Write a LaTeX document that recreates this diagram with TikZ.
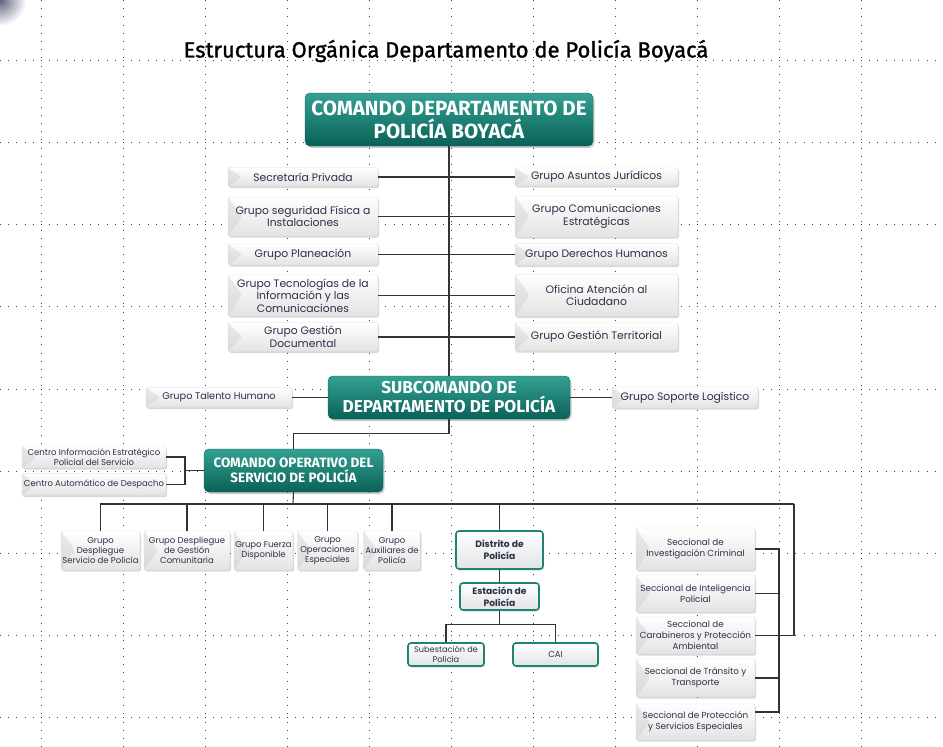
\documentclass[tikz,border=0pt]{standalone}
\usepackage{fontspec}
\setmainfont{Fira Sans}
\newfontfamily\grayfont{Poppins}
\newfontfamily\headfont{Fira Sans}
\newfontfamily\titlefont[FakeBold=1.2]{Fira Sans}
\usetikzlibrary{shadows,calc}
\definecolor{tealtop}{HTML}{34A193}
\definecolor{tealbot}{HTML}{0A6158}
\definecolor{tealedge}{HTML}{1E8275}
\definecolor{navytext}{HTML}{2B3148}
\definecolor{linecol}{HTML}{333333}
\definecolor{gridcol}{HTML}{444444}
\tikzset{
  gridline/.style={gridcol, line width=0.9pt, dash pattern=on 0.9pt off 7.3pt},
  bevel/.style={path picture={\fill[gray!45,opacity=0.35] (path picture bounding box.north west) -- ([xshift=14pt]path picture bounding box.west) -- (path picture bounding box.south west) -- cycle;}},
  graybox/.style={rectangle, rounded corners=2pt, top color=white, bottom color=gray!22, draw=gray!30, line width=0.4pt,
    drop shadow={opacity=0.3, shadow xshift=1pt, shadow yshift=-1.5pt}, text=navytext, align=center, inner sep=0.5pt, bevel},
  gtext/.style={font=\grayfont\fontsize{10.8}{12.5}\selectfont},
  stext/.style={font=\grayfont\fontsize{8.5}{10}\selectfont},
  sectext/.style={font=\grayfont\fontsize{8.8}{11}\selectfont},
  tealbox/.style={rectangle, rounded corners=5pt, top color=tealtop, bottom color=tealbot, draw=tealbot, line width=0.4pt,
    drop shadow={opacity=0.4, shadow xshift=1.5pt, shadow yshift=-2pt}, text=white, align=center, inner sep=1pt},
  distbox/.style={rectangle, rounded corners=3pt, top color=white, bottom color=gray!22, draw=tealedge, line width=1.6pt,
    text=navytext, align=center, inner sep=0.5pt, font=\grayfont\bfseries\fontsize{9.2}{11.5}\selectfont,
    drop shadow={opacity=0.25, shadow xshift=1pt, shadow yshift=-1.5pt}},
  conn/.style={linecol, line width=1.1pt}
}
\begin{document}
\begin{tikzpicture}[x=1pt,y=-1pt]
\useasboundingbox (0,0) rectangle (943,747);
\fill[white] (0,0) rectangle (943,747);
% corner shading
\begin{scope}
\clip (0,0) rectangle (943,747);
\shade[inner color=gray!75!blue!60!black, outer color=white, opacity=0.8] (0,0) circle (26pt);
\end{scope}
% dotted grid
\foreach \gx in {41,123,205,287,369,451,533,615,697,779,861} {\draw[gridline] (\gx,0) -- (\gx,747);}
\foreach \gy in {60,142,224,306,389,471,553,635,717} {\draw[gridline] (0,\gy) -- (943,\gy);}

% title
\node[font=\titlefont\fontsize{22}{25}\selectfont, text=black] (title) at (446,51) {Estructura Orgánica Departamento de Policía Boyacá};

% top command
\node[tealbox, minimum width=288pt, minimum height=53pt, font=\headfont\bfseries\fontsize{20.5}{23}\selectfont] (top) at (449,119.5) {COMANDO DEPARTAMENTO DE\\POLICÍA BOYACÁ};

% left column
\node[graybox, gtext, minimum width=150pt, minimum height=19pt] (l1) at (303,177) {Secretaría Privada};
\node[graybox, gtext, minimum width=150pt, minimum height=39pt] (l2) at (303,216.5) {Grupo seguridad Física a\\Instalaciones};
\node[graybox, gtext, minimum width=150pt, minimum height=21pt] (l3) at (303,254.5) {Grupo Planeación};
\node[graybox, gtext, minimum width=150pt, minimum height=41pt] (l4) at (303,295.5) {Grupo Tecnologías de la\\Información y las\\Comunicaciones};
\node[graybox, gtext, minimum width=150pt, minimum height=29pt] (l5) at (303,337) {Grupo Gestión\\Documental};
% right column
\node[graybox, gtext, minimum width=163pt, minimum height=18pt] (r1) at (596.5,177) {Grupo Asuntos Jurídicos};
\node[graybox, gtext, minimum width=163pt, minimum height=41pt] (r2) at (596.5,216.5) {Grupo Comunicaciones\\Estratégicas};
\node[graybox, gtext, minimum width=163pt, minimum height=22pt] (r3) at (596.5,254.5) {Grupo Derechos Humanos};
\node[graybox, gtext, minimum width=163pt, minimum height=42pt] (r4) at (596.5,295.5) {Oficina Atención al\\Ciudadano};
\node[graybox, gtext, minimum width=163pt, minimum height=28pt] (r5) at (596.5,337) {Grupo Gestión Territorial};

% subcommand
\node[tealbox, minimum width=242pt, minimum height=43pt, font=\headfont\bfseries\fontsize{17.2}{19}\selectfont] (sub) at (449,397.5) {SUBCOMANDO DE\\DEPARTAMENTO DE POLICÍA};
\node[graybox, font=\grayfont\fontsize{9.7}{11}\selectfont, minimum width=146pt, minimum height=20pt] (th) at (219,397.5) {Grupo Talento Humano};
\node[graybox, font=\grayfont\fontsize{10.8}{12}\selectfont, minimum width=146pt, minimum height=21pt] (sl) at (685,397.5) {Grupo Soporte Logístico};

% operative command
\node[tealbox, minimum width=179pt, minimum height=43pt, font=\headfont\bfseries\fontsize{13.5}{15.5}\selectfont] (co) at (293.5,470.5) {COMANDO OPERATIVO DEL\\SERVICIO DE POLICÍA};
\node[graybox, stext, minimum width=144pt, minimum height=22pt] (c1) at (94,457) {Centro Información Estratégico\\Policial del Servicio};
\node[graybox, stext, minimum width=144pt, minimum height=22pt] (c2) at (94,484.5) {Centro Automático de Despacho};

% bottom row
\node[graybox, stext, minimum width=79pt, minimum height=39pt] (b1) at (100.5,550.5) {Grupo\\Despliegue\\Servicio de Policía};
\node[graybox, stext, minimum width=86pt, minimum height=39pt] (b2) at (187,550.5) {Grupo Despliegue\\de Gestión\\Comunitaria};
\node[graybox, stext, minimum width=59pt, minimum height=39pt] (b3) at (263.5,550.5) {Grupo Fuerza\\Disponible};
\node[graybox, stext, minimum width=60pt, minimum height=39pt] (b4) at (327.5,550.5) {Grupo\\Operaciones\\Especiales};
\node[graybox, stext, minimum width=57pt, minimum height=39pt] (b5) at (392,550.5) {Grupo\\Auxiliares de\\Policía};

% district
\node[distbox, minimum width=87pt, minimum height=38pt] (dis) at (499.5,550) {Distrito de\\Policía};
\node[distbox, minimum width=79pt, minimum height=27pt] (est) at (499.5,596.5) {Estación de\\Policía};
\node[distbox, font=\grayfont\fontsize{8.2}{9.5}\selectfont, minimum width=76pt, minimum height=23pt] (sube) at (446,654.5) {Subestación de\\Policía};
\node[distbox, font=\grayfont\fontsize{8.5}{10}\selectfont, minimum width=85pt, minimum height=23pt] (cai) at (555.5,654.5) {CAI};

% seccionales
\node[graybox, sectext, minimum width=119pt, minimum height=42pt] (s1) at (695.5,549) {Seccional de\\Investigación Criminal};
\node[graybox, sectext, minimum width=119pt, minimum height=37pt] (s2) at (695.5,593.5) {Seccional de Inteligencia\\Policial};
\node[graybox, sectext, minimum width=119pt, minimum height=37pt] (s3) at (695.5,635.5) {Seccional de\\Carabineros y Protección\\Ambiental};
\node[graybox, sectext, minimum width=119pt, minimum height=38pt] (s4) at (695.5,678) {Seccional de Tránsito y\\Transporte};
\node[graybox, sectext, minimum width=119pt, minimum height=36pt] (s5) at (695.5,722) {Seccional de Protección\\y Servicios Especiales};

% coordinates
\coordinate (vx) at (779,0);
\coordinate (bus) at (293,504);
\coordinate (busR) at (794,504);
\coordinate (brk) at (185,470.5);

% connectors
\draw[conn] (top.south) -- (sub.north);
\draw[conn] (l1.east) -- (r1.west);
\draw[conn] (l2.east) -- (r2.west);
\draw[conn] (l3.east) -- (r3.west);
\draw[conn] (l4.east) -- (r4.west);
\draw[conn] (l5.east) -- (r5.west);
\draw[conn] (th.east) -- (sub.west);
\draw[conn] (sub.east) -- (sl.west);
\draw[conn] (sub.south) -- ++(0,14) -| (co.north);
\draw[conn] (c1.east) -| (brk) |- (c2.east);
\draw[conn] (brk) -- (co.west);
\draw[conn] (co.south) -- (bus);
\draw[conn] (b1.north) |- (busR);
\draw[conn] (b2.north) -- (b2.north |- bus);
\draw[conn] (b3.north) -- (b3.north |- bus);
\draw[conn] (b4.north) -- (b4.north |- bus);
\draw[conn] (b5.north) -- (b5.north |- bus);
\draw[conn] (dis.north) -- (dis.north |- bus);
\draw[conn] (busR) |- (s3.east -| vx);
\draw[conn] (dis.south) -- (est.north);
\draw[conn] (est.south) -- ++(0,14) coordinate (ej);
\draw[conn] (sube.north) |- (ej) -| (cai.north);
\draw[conn] (s1.east) -- (s1.east -| vx) -- ($(s5.east -| vx)+(0,-10)$) -- ($(s5.east)+(0,-10)$);
\draw[conn] (s2.east) -- (s2.east -| vx);
\draw[conn] (s3.east) -- (s3.east -| vx);
\draw[conn] (s4.east) -- (s4.east -| vx);
\end{tikzpicture}
\end{document}
